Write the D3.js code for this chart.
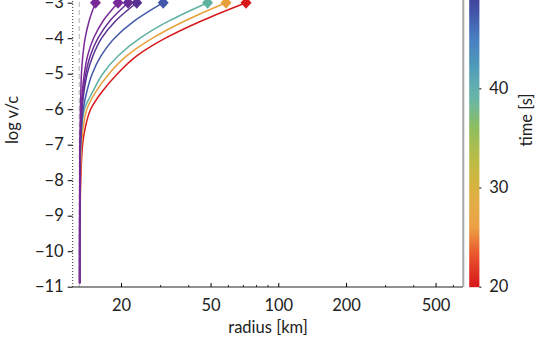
<!DOCTYPE html>
<html><head><meta charset="utf-8">
<script src="https://cdn.jsdelivr.net/npm/d3@7"></script>
<style>
html,body{margin:0;padding:0;background:#fff;}
svg{display:block;font-family:Lato, "Open Sans", sans-serif;}
</style></head>
<body>
<svg id="chart" width="538" height="339"></svg>
<script>
// ---------- data ----------
const logvLevels = [-10.9, -10, -9, -8, -7, -6.5, -6, -5.5, -5, -4.5, -4, -3.5, -3];
const seriesTimes = [20, 27, 39, 47.5, 52, 54, 56, 60];
const radiusRed    = [13.1, 13.12, 13.15, 13.25, 13.5, 13.9, 14.66, 16.5, 19.3, 23.5, 31.5, 46.0, 71.9];
const radiusOrange = [13.1, 13.11, 13.14, 13.2, 13.35, 13.6, 14.1, 15.5, 17.7, 21.2, 27.6, 38.8, 58.6];
const radiusTeal   = [13.1, 13.1, 13.12, 13.16, 13.25, 13.4, 13.75, 15.0, 16.6, 19.4, 24.3, 33.0, 48.5];
const radiusIndigo = [13.1, 13.1, 13.11, 13.14, 13.22, 13.35, 13.6, 14.1, 14.9, 16.3, 18.7, 23.1, 30.8];
const radiusPurple4 = [13.1, 13.1, 13.11, 13.13, 13.2, 13.3, 13.43, 13.7, 14.15, 15.0, 16.4, 19.0, 23.5];
const radiusPurple3 = [13.1, 13.1, 13.11, 13.12, 13.18, 13.26, 13.37, 13.58, 13.95, 14.6, 15.8, 17.9, 21.5];
const radiusPurple2 = [13.1, 13.1, 13.1, 13.12, 13.16, 13.22, 13.3, 13.46, 13.74, 14.2, 15.1, 16.7, 19.4];
const radiusPurple1 = [13.1, 13.1, 13.1, 13.11, 13.14, 13.17, 13.2, 13.26, 13.34, 13.53, 13.86, 14.45, 15.4];
const allRadii = [radiusRed, radiusOrange, radiusTeal, radiusIndigo, radiusPurple4, radiusPurple3, radiusPurple2, radiusPurple1];
const r0Line = 13.05;
const xTickValues = [20, 50, 100, 200, 500];
const yTickValues = [-11, -10, -9, -8, -7, -6, -5, -4, -3];
const cbarTickValues = [20, 30, 40];
const colorStopTimes = [20, 23, 26, 30, 33, 36, 39, 42, 45, 48, 50, 53, 56, 62];

// ---------- style ----------
const colorStopColors = ["#d7191c","#e8512c","#ec9a3a","#d9b340","#b9bd48","#8fbe5e","#5fb1a2","#4f9cb8","#4a7fc2","#4150a6","#3d3a8f","#5f2d94","#7a2a98","#7a2a98"];
const color = d3.scaleLinear().domain(colorStopTimes).range(colorStopColors).interpolate(d3.interpolateRgb);
const x = d3.scaleLog().domain([12.2, 662]).range([72.7, 463]);
const y = d3.scaleLinear().domain([-11, -3]).range([286.7, 2.7]);
const cb = d3.scaleLinear().domain([20, 50]).range([286.7, -10.9]);
const fs = 16.5;

const svg = d3.select("#chart");

// dashed r0 line
svg.append("line").attr("x1", x(r0Line)).attr("x2", x(r0Line))
  .attr("y1", 287).attr("y2", -10)
  .attr("stroke", "#c4c4c4").attr("stroke-width", 1.3).attr("stroke-dasharray", "5,3");

// curves
const line = d3.line().x(d => x(d[0])).y(d => y(d[1])).curve(d3.curveMonotoneY);
allRadii.forEach((rs, i) => {
  const pts = rs.map((r, j) => [r, logvLevels[j]]);
  const c = color(seriesTimes[i]);
  svg.append("path").attr("d", line(pts)).attr("fill", "none")
    .attr("stroke", c).attr("stroke-width", 1.5);
});
allRadii.forEach((rs, i) => {
  const c = color(seriesTimes[i]);
  const last = rs.length - 1;
  svg.append("path").attr("d", "M0,-6L5.5,0L0,6L-5.5,0Z")
    .attr("transform", `translate(${x(rs[last])},${y(logvLevels[last])})`)
    .attr("fill", c);
});

// left axis (dotted)
svg.append("line").attr("x1", 72.7).attr("x2", 72.7).attr("y1", 287).attr("y2", -10)
  .attr("stroke", "#333").attr("stroke-width", 1).attr("stroke-dasharray", "1,2");
const yAxis = d3.axisLeft(y).tickValues(yTickValues).tickSize(5).tickPadding(4)
  .tickFormat(d => "\u2212" + Math.abs(d));
const gy = svg.append("g").attr("transform", "translate(72.7,0)").call(yAxis);
gy.select(".domain").remove();
gy.selectAll("text").attr("font-size", fs).attr("fill", "#222").attr("font-family", "Lato");

// bottom axis
svg.append("line").attr("x1", 72.7).attr("x2", 463).attr("y1", 287).attr("y2", 287)
  .attr("stroke", "#222").attr("stroke-width", 1);
const minor = [];
[10, 100].forEach(b => { for (let k = 1; k < 10; k++) { const v = b * k; if (v > 12.2 && v < 662 && !xTickValues.includes(v)) minor.push(v); } });
svg.append("g").selectAll("line").data(minor).join("line")
  .attr("x1", d => x(d)).attr("x2", d => x(d)).attr("y1", 287).attr("y2", 285)
  .attr("stroke", "#222").attr("stroke-width", 1);
const xAxis = d3.axisBottom(x).tickValues(xTickValues).tickSize(-4).tickPadding(12).tickFormat(d3.format("d"));
const gx = svg.append("g").attr("transform", "translate(0,287)").call(xAxis);
gx.select(".domain").remove();
gx.selectAll("text").attr("font-size", fs).attr("fill", "#222").attr("font-family", "Lato");

// axis labels
svg.append("text").attr("x", 268).attr("y", 333).attr("text-anchor", "middle")
  .attr("font-size", fs).attr("fill", "#222").text("radius [km]");
svg.append("text").attr("transform", "translate(18,120) rotate(-90)").attr("text-anchor", "middle")
  .attr("font-size", fs).attr("fill", "#222").text("log v/c");

// right frame line
svg.append("line").attr("x1", 463.3).attr("x2", 463.3).attr("y1", 287).attr("y2", -10)
  .attr("stroke", "#a8a8a8").attr("stroke-width", 2);

// colorbar
const cbSteps = d3.range(20, 50.01, 0.1);
svg.append("g").selectAll("rect").data(cbSteps).join("rect")
  .attr("x", 469.3).attr("width", 10)
  .attr("y", d => cb(d + 0.1)).attr("height", d => cb(d) - cb(d + 0.1) + 0.5)
  .attr("fill", d => color(d));
const cAxis = d3.axisRight(cb).tickValues(cbarTickValues).tickSize(2).tickPadding(8);
const gc = svg.append("g").attr("transform", "translate(479.3,0)").call(cAxis);
gc.select(".domain").remove();
gc.selectAll("text").attr("font-size", fs).attr("fill", "#222").attr("font-family", "Lato");
svg.append("text").attr("transform", "translate(532,120) rotate(-90)").attr("text-anchor", "middle")
  .attr("font-size", fs).attr("fill", "#222").text("time [s]");
</script>
</body></html>
